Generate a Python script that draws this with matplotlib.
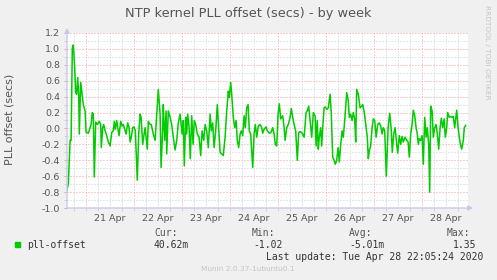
import matplotlib
matplotlib.use("Agg")
import matplotlib.pyplot as plt
import numpy as np

# hours since 20 Apr 2020 00:00, pll offset in seconds
hours = [14.5, 15.3, 16.2, 16.7, 17.3, 17.8, 18.5, 19.0, 19.5, 20.0, 20.5, 20.8, 21.5, 22.2, 22.8, 23.7,
         24.2, 25.3, 26.2, 26.7, 27.3, 27.8, 28.3, 29.0, 29.8, 30.8, 31.5, 31.8, 32.5, 33.0, 33.7, 34.5,
         35.3, 36.2, 37.0, 37.8, 38.3, 38.8, 39.5, 40.0, 40.7, 41.5, 42.2, 42.8, 43.7, 44.2, 45.0, 45.7,
         46.2, 46.8, 47.5, 48.2, 48.8, 49.8, 50.5, 51.2, 51.7, 52.5, 53.2, 53.7, 54.2, 54.8, 55.3, 56.2,
         56.8, 57.8, 58.7, 59.5, 60.3, 61.2, 61.7, 62.5, 62.8, 63.5, 64.2, 64.5, 65.3, 66.2, 67.0, 67.8,
         68.7, 69.5, 70.3, 71.2, 71.7, 72.2, 72.8, 73.3, 74.0, 74.5, 75.0, 75.7, 76.3, 77.0, 77.7, 78.3,
         79.0, 79.8, 80.7, 81.5, 82.2, 83.0, 83.7, 84.5, 85.3, 86.2, 86.8, 87.5, 88.2, 89.0, 89.8, 90.5,
         91.2, 92.0, 92.8, 93.7, 94.5, 95.3, 95.8, 96.5, 97.0, 97.8, 98.5, 99.2, 99.8, 100.5, 101.2, 101.8,
         102.5, 103.2, 103.8, 104.5, 105.2, 105.8, 106.5, 107.5, 108.2, 108.8, 109.5, 110.3, 111.2, 112.0,
         112.5, 113.2, 114.2, 114.8, 115.8, 116.7, 117.5, 118.2, 118.8, 119.5, 120.2, 120.8, 121.5, 122.5,
         123.2, 123.7, 124.5, 125.3, 126.2, 126.8, 127.5, 128.2, 129.0, 129.8, 130.5, 131.2, 132.0, 133.2,
         134.2, 134.8, 135.5, 136.2, 137.0, 137.8, 138.7, 139.2, 139.8, 140.3, 140.8, 141.5, 142.0, 142.5,
         143.2, 143.8, 144.5, 145.3, 146.2, 146.8, 147.5, 148.2, 148.8, 149.5, 150.2, 150.8, 151.5, 152.2,
         152.8, 153.5, 154.5, 155.2, 155.8, 156.5, 157.2, 157.8, 158.5, 159.0, 159.5, 160.3, 161.2, 162.0,
         162.5, 163.3, 164.2, 164.8, 165.3, 165.8, 166.5, 167.2, 167.8, 168.5, 169.2, 170.0, 170.8, 171.5,
         172.2, 172.8, 173.5, 174.3, 175.2, 176.0, 176.7, 177.3, 178.0, 178.7, 179.3, 180.0, 180.8, 181.5,
         182.2, 182.8, 183.7, 184.5, 185.2, 185.8, 186.5, 187.2, 187.8, 188.5, 189.2, 189.8, 190.3, 190.8,
         191.5, 192.2, 192.8, 193.5, 194.2, 194.8, 195.5, 196.0, 196.5, 197.2, 197.8, 198.5, 199.2, 199.8,
         200.5, 201.2, 201.8, 202.5, 203.2, 203.8, 204.5, 205.0, 205.8, 206.5, 207.2, 207.8, 208.5, 209.5,
         210.2, 210.8, 211.5, 212.0, 212.8, 213.3, 214.0]
offset = [-0.78, -0.70, -0.15, -0.15, 1.01, 1.05, 0.76, 0.45, 0.43, 0.64, 0.43, -0.07, 0.58, 0.43, 0.30, 0.22,
          -0.05, -0.06, 0.01, 0.05, 0.20, 0.18, -0.61, 0.08, 0.05, 0.09, 0.05, -0.24, 0.01, 0.05, -0.03, -0.09,
          -0.17, -0.22, -0.05, -0.03, 0.09, -0.01, 0.10, 0.01, -0.09, 0.09, 0.03, 0.05, -0.03, -0.07, 0.07, 0.01,
          -0.17, -0.11, 0.01, 0.02, -0.03, -0.65, -0.07, 0.18, 0.14, -0.20, -0.07, 0.01, -0.11, -0.26, 0.09, 0.05,
          0.05, -0.07, -0.15, 0.18, 0.49, 0.18, -0.49, 0.01, 0.30, -0.15, 0.22, -0.32, 0.22, 0.14, 0.05, -0.11,
          -0.27, -0.15, 0.07, 0.18, 0.05, -0.07, 0.10, -0.47, 0.14, -0.07, 0.18, 0.01, -0.38, 0.16, -0.20, 0.10,
          0.05, -0.07, -0.11, -0.34, -0.03, -0.15, 0.05, -0.03, -0.24, 0.18, -0.03, 0.07, -0.24, -0.03, 0.30, 0.01,
          -0.30, -0.32, -0.34, -0.11, 0.22, 0.47, 0.39, 0.58, 0.43, 0.14, 0.01, 0.10, -0.15, -0.24, -0.07, -0.03,
          -0.09, 0.16, 0.01, 0.26, 0.30, -0.03, -0.07, -0.49, -0.07, 0.05, -0.11, 0.03, 0.05, 0.01,
          -0.06, -0.01, 0.02, -0.03, -0.06, -0.05, 0.01, -0.07, -0.20, -0.22, 0.18, 0.31, 0.12, 0.16,
          0.01, -0.15, 0.01, 0.05, 0.14, 0.25, 0.14, 0.05, -0.03, -0.40, -0.05, -0.04, -0.05, -0.11,
          0.20, 0.22, 0.28, 0.10, -0.11, 0.20, 0.16, -0.22, 0.10, -0.26, -0.11, 0.01, -0.22, 0.01,
          0.26, 0.27, 0.24, 0.26, 0.43, 0.18, -0.36, -0.40, -0.45, -0.40, -0.24, -0.42, -0.20, -0.03,
          -0.11, 0.10, 0.45, 0.37, 0.14, 0.18, 0.10, 0.20, 0.12, -0.17, 0.49, 0.43, 0.26, 0.28,
          0.30, 0.20, 0.01, -0.11, -0.38, -0.28, -0.22, 0.01, 0.12, 0.10, -0.11, 0.05, 0.07, 0.03,
          -0.07, 0.01, -0.03, -0.60, 0.01, 0.19, 0.01, -0.30, -0.07, 0.01, -0.15, -0.31, -0.09, -0.20,
          -0.10, -0.17, -0.11, -0.15, -0.17, -0.36, -0.07, 0.05, 0.23, 0.16, 0.01, -0.07, -0.20, -0.13,
          -0.15, -0.09, -0.45, 0.14, -0.11, 0.01, -0.20, -0.80, 0.28, 0.22, -0.11, 0.01, 0.05, -0.07,
          -0.26, 0.01, 0.13, 0.01, 0.12, -0.11, 0.01, 0.20, 0.14, 0.15, 0.14, 0.15, 0.01, 0.23,
          0.01, -0.11, -0.22, -0.26, -0.15, 0.01, 0.04]

day_labels = ["21 Apr", "22 Apr", "23 Apr", "24 Apr", "25 Apr", "26 Apr", "27 Apr", "28 Apr"]
y_ticks = [-1.0, -0.8, -0.6, -0.4, -0.2, 0.0, 0.2, 0.4, 0.6, 0.8, 1.0, 1.2]

legend_cols = ["Cur:", "Min:", "Avg:", "Max:"]
legend_vals = ["40.62m", "-1.02", "-5.01m", "1.35"]

W, H = 497, 280
fig = plt.figure(figsize=(W / 100, H / 100), dpi=100)
fig.patch.set_facecolor("#F0F0F0")

ax = fig.add_axes([67 / W, 1 - 208 / H, (468 - 67) / W, (208 - 33) / H])
ax.set_facecolor("white")
ax.set_xlim(14.65, 215.15)
ax.set_ylim(-1.0, 1.2)

minor_c = "#CFCFCF"
major_c = "#E8A2A2"
dot = (0, (1, 2))
for h in np.arange(18, 216, 6):
    if h % 24 == 0:
        continue
    ax.axvline(h, color=minor_c, lw=0.72, ls=dot, zorder=1)
for v in np.arange(-0.9, 1.21, 0.2):
    ax.axhline(v, color=minor_c, lw=0.72, ls=dot, zorder=1)
for h in range(24, 216, 24):
    ax.axvline(h, color=major_c, lw=0.72, ls=dot, zorder=2)
for v in y_ticks[1:]:
    ax.axhline(v, color=major_c, lw=0.72, ls=dot, zorder=2)

ax.plot(hours, offset, color="#00CC00", lw=1.1, zorder=3)

for s in ax.spines.values():
    s.set_visible(False)
axis_c = "#C8C8EC"
ax.annotate("", xy=(1.013, 0), xytext=(0, 0), xycoords="axes fraction",
            arrowprops=dict(arrowstyle="-|>", color=axis_c, lw=1, mutation_scale=7,
                            shrinkA=0, shrinkB=0), annotation_clip=False)
ax.annotate("", xy=(0, 1.03), xytext=(0, 0), xycoords="axes fraction",
            arrowprops=dict(arrowstyle="-|>", color=axis_c, lw=1, mutation_scale=7,
                            shrinkA=0, shrinkB=0), annotation_clip=False)

noons = [36 + 24 * i for i in range(len(day_labels))]
ax.set_xticks(noons)
ax.set_xticklabels(day_labels)
ax.set_xticks(np.arange(18, 216, 6), minor=True)
ax.set_yticks(y_ticks)
ax.set_yticklabels(["%.1f" % v for v in y_ticks])
ax.set_yticks(np.arange(-0.9, 1.21, 0.2), minor=True)
ax.tick_params(axis="x", which="major", length=0, pad=4, labelsize=6.8, labelcolor="#555555")
ax.tick_params(axis="x", which="minor", length=2, width=0.7, color=minor_c)
ax.tick_params(axis="y", which="major", length=2, width=0.7, color=major_c, pad=3,
               labelsize=6.8, labelcolor="#555555")
ax.tick_params(axis="y", which="minor", length=2, width=0.7, color=minor_c)

fig.text(10 / W, 1 - 119 / H, "PLL offset (secs)", rotation=90, ha="center", va="center",
         fontsize=8, color="#555555")

fig.text(248 / W, 1 - 13 / H, "NTP kernel PLL offset (secs) - by week", ha="center", va="center",
         fontsize=9.3, color="#555555")
fig.text(487 / W, 1 - 5 / H, "RRDTOOL / TOBI OETIKER", rotation=270, ha="center", va="top",
         fontsize=5.3, color="#C4C4C4")

mono = "DejaVu Sans Mono"
fig.patches.append(plt.Rectangle((15 / W, 1 - 247 / H), 5 / W, 5 / H, transform=fig.transFigure,
                                 color="#00CC00"))
fig.text(27 / W, 1 - 244.5 / H, "pll-offset", family=mono, fontsize=7, color="#333333", va="center")
col_x = [154, 252, 349, 447]
val_x = [154, 253, 349.7, 453]
for lab, v, cx, vx in zip(legend_cols, legend_vals, col_x, val_x):
    fig.text(cx / W, 1 - 233.3 / H, lab, family=mono, fontsize=7, color="#555555", va="center")
    fig.text(vx / W, 1 - 244.5 / H, v, family=mono, fontsize=7, color="#333333", va="center")
fig.text(483 / W, 1 - 256.7 / H, "Last update: Tue Apr 28 22:05:24 2020", family=mono, fontsize=7,
         color="#333333", ha="right", va="center")
fig.text(248 / W, 1 - 269.3 / H, "Munin 2.0.37-1ubuntu0.1", fontsize=5.3, color="#C4C4C4",
         ha="center", va="center")

fig.savefig("out.png", dpi=100, facecolor=fig.get_facecolor())
